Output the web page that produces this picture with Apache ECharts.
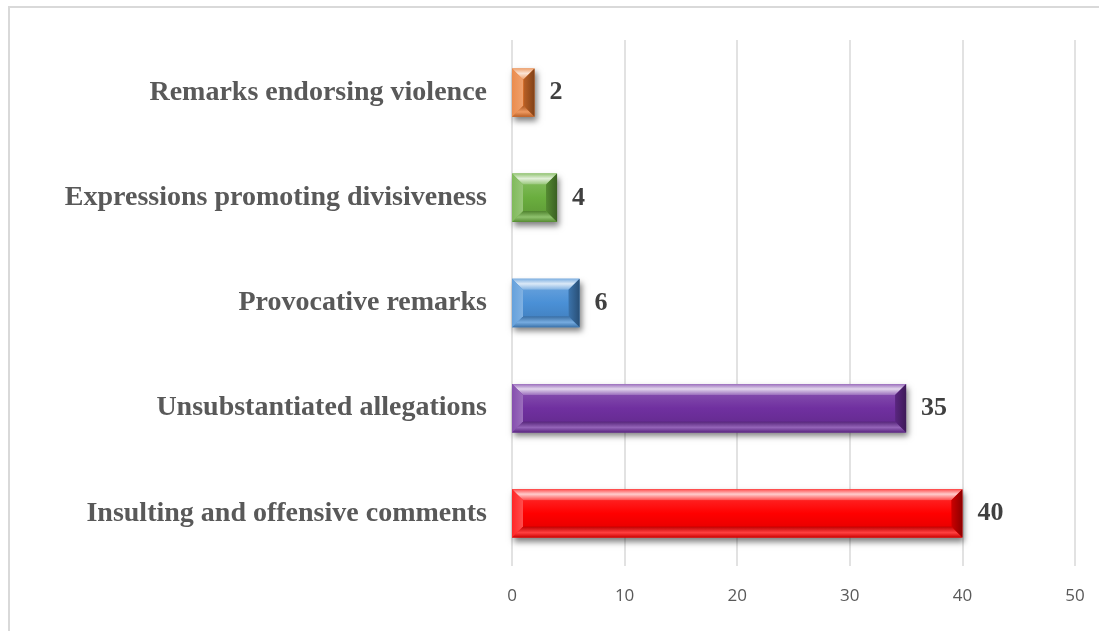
<!DOCTYPE html>
<html>
<head>
<meta charset="utf-8">
<script src="https://cdn.jsdelivr.net/npm/echarts@6/dist/echarts.min.js"></script>
<style>
html,body{margin:0;padding:0;background:#fff;}
#main{width:1099px;height:631px;}
</style>
</head>
<body>
<div id="main"></div>
<script>
const categories = ['Insulting and offensive comments','Unsubstantiated allegations','Provocative remarks','Expressions promoting divisiveness','Remarks endorsing violence'];
const values = [40, 35, 6, 4, 2];
const xTicks = [0, 10, 20, 30, 40, 50];
const barColors = ['#FF0000', '#7030A0', '#4A90D6', '#6AAE3E', '#E8782E'];

function hexToRgb(h){h=h.replace('#','');return [parseInt(h.substr(0,2),16),parseInt(h.substr(2,2),16),parseInt(h.substr(4,2),16)];}
function mix(h, t, amt){const c=hexToRgb(h);const r=c.map((v,i)=>Math.round(v+(t[i]-v)*amt));return 'rgb('+r.join(',')+')';}
function light(h,a){return mix(h,[255,255,255],a);}
function dark(h,a){return mix(h,[0,0,0],a);}
function vgrad(stops){return new echarts.graphic.LinearGradient(0,0,0,1,stops.map(s=>({offset:s[0],color:s[1]})));}
function hgrad(stops){return new echarts.graphic.LinearGradient(0,0,1,0,stops.map(s=>({offset:s[0],color:s[1]})));}

function renderItem(params, api){
  const val = api.value(0);
  const idx = api.value(1);
  const p0 = api.coord([0, idx]);
  const p1 = api.coord([val, idx]);
  const bandH = api.size([0, 1])[1];
  const h = bandH * 0.46;
  const x0 = p0[0], x1 = p1[0], yc = p0[1];
  const y0 = yc - h/2, y1 = yc + h/2;
  const w = x1 - x0;
  const b = Math.min(11, w/2);
  const c = barColors[params.dataIndex];
  const children = [
    {type:'rect', shape:{x:x0,y:y0,width:w,height:h}, style:{fill:c, shadowBlur:6, shadowOffsetX:2, shadowOffsetY:4, shadowColor:'rgba(0,0,0,0.5)'}},
    {type:'rect', shape:{x:x0+b,y:y0+b,width:Math.max(0,w-2*b),height:h-2*b}, style:{fill:vgrad([[0,light(c,0.12)],[0.5,c],[1,dark(c,0.08)]])}},
    {type:'polygon', shape:{points:[[x0,y0],[x1,y0],[x1-b,y0+b],[x0+b,y0+b]]}, style:{fill:vgrad([[0,light(c,0.3)],[0.45,light(c,0.8)],[1,light(c,0.3)]])}},
    {type:'polygon', shape:{points:[[x0+b,y1-b],[x1-b,y1-b],[x1,y1],[x0,y1]]}, style:{fill:vgrad([[0,dark(c,0.25)],[0.55,light(c,0.25)],[1,dark(c,0.2)]])}},
    {type:'polygon', shape:{points:[[x0,y0],[x0+b,y0+b],[x0+b,y1-b],[x0,y1]]}, style:{fill:hgrad([[0,light(c,0.15)],[1,light(c,0.3)]])}},
    {type:'polygon', shape:{points:[[x1,y0],[x1,y1],[x1-b,y1-b],[x1-b,y0+b]]}, style:{fill:hgrad([[0,dark(c,0.2)],[1,dark(c,0.45)]])}},
    {type:'text', x:x1+15, y:yc, style:{text:String(val), fill:'#404040', font:'bold 26px "Liberation Serif"', textAlign:'left', textVerticalAlign:'middle'}}
  ];
  return {type:'group', children:children};
}

const chart = echarts.init(document.getElementById('main'));
chart.setOption({
  animation:false,
  backgroundColor:'#fff',
  graphic:[{type:'rect', shape:{x:9, y:7, width:1200, height:700}, style:{fill:'none', stroke:'#d9d9d9', lineWidth:2}, z:-1}],
  grid:{left:512, right:24, top:40, bottom:65},
  xAxis:{type:'value', min:xTicks[0], max:xTicks[xTicks.length-1], interval:10,
    axisLine:{show:false}, axisTick:{show:false},
    splitLine:{show:true, lineStyle:{color:'#d9d9d9', width:1.5}},
    axisLabel:{color:'#595959', fontSize:17, fontFamily:'"Open Sans"', margin:22}},
  yAxis:{type:'category', data:categories,
    axisLine:{show:false}, axisTick:{show:false},
    axisLabel:{color:'#595959', fontSize:28, fontWeight:'bold', fontFamily:'"Liberation Serif"', margin:25}},
  series:[{type:'custom', renderItem:renderItem, encode:{x:0, y:1},
    data:values.map((v,i)=>[v,i])}]
});
</script>
</body>
</html>
